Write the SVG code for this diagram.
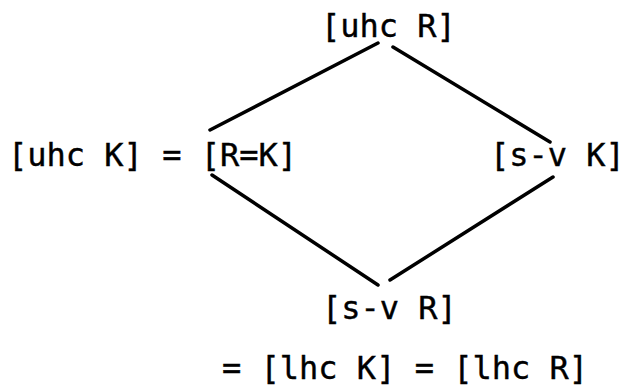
<svg xmlns="http://www.w3.org/2000/svg" width="629" height="388" viewBox="0 0 629 388">
<style>
.t{font-family:"DejaVu Sans Mono","Liberation Mono",monospace;font-size:32px;fill:#000;stroke:#000;stroke-width:0.4}
.c{stroke:#000;stroke-width:3.5;fill:none;stroke-linecap:round}
</style>
<rect width="629" height="388" fill="#fff"/>
<g id="connectors">
<path class="c" d="M378,43 L210,130"/>
<path class="c" d="M393,47 L550,142"/>
<path class="c" d="M212,175 L378,285"/>
<path class="c" d="M553,177 L390,280"/>
</g>
<g id="uhcR"><text class="t" x="321" y="37">[uhc R]</text></g>
<g id="RK"><text class="t" x="8" y="166">[uhc K] = [R=K]</text></g>
<g id="svK"><text class="t" x="490" y="166">[s-v K]</text></g>
<g id="svR"><text class="t" x="322" y="319">[s-v R]</text></g>
<g id="lhc"><text class="t" x="222" y="379">= [lhc K] = [lhc R]</text></g>
</svg>
